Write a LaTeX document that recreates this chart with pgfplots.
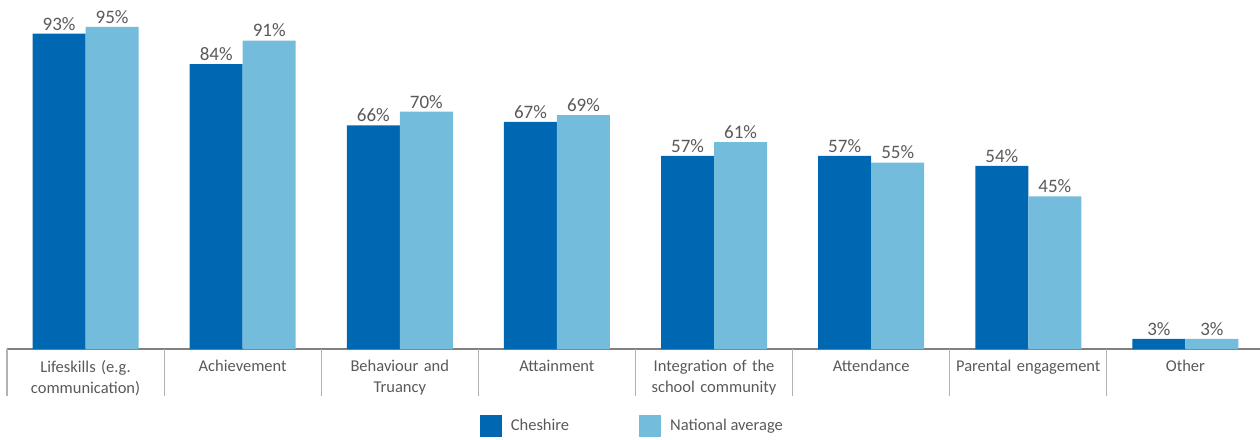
\documentclass[border=0pt]{standalone}
\usepackage{pgfplots}
\pgfplotsset{compat=1.18}
\usepackage{fontspec}
\setmainfont{Carlito}
\definecolor{cheshire}{HTML}{0068B3}
\definecolor{national}{HTML}{74BCDB}
\definecolor{txt}{HTML}{595959}
\begin{document}
\begin{tikzpicture}
\begin{axis}[
  at={(7pt,90pt)}, anchor=south west,
  scale only axis, width=1257pt, height=339pt,
  ymin=0, ymax=100, xmin=-0.5, xmax=7.5,
  axis y line=none, axis x line*=bottom,
  x axis line style={draw=gray, line width=1.2pt},
  ybar, bar width=53pt,
  xtick={0,...,7},
  major tick length=0pt,
  xticklabels={{Lifeskills (e.g.\\communication)},{Achievement},{Behaviour and\\Truancy},{Attainment},{Integration of the\\school community},{Attendance},{Parental engagement},{Other}},
  xticklabel style={align=center, text width=152pt, font=\fontsize{16.5}{21.5}\selectfont, text=txt, anchor=north, yshift=-7.5pt},
  extra x ticks={-0.5,0.5,...,7.5},
  extra x tick labels={},
  extra x tick style={major tick length=47pt, tick align=outside, tick style={draw=gray!60, line width=1.2pt}},
  /pgf/number format/assume math mode=true,
  nodes near coords={\pgfmathprintnumber{\pgfplotspointmeta}\%},
  every node near coord/.append style={font=\fontsize{19}{22}\selectfont, text=txt, yshift=0pt},
  legend columns=2,
  legend style={at={(0.4975,-0.227)}, anchor=center, draw=none, fill=none,
    font=\fontsize{16.5}{20}\selectfont, text=txt,
    /tikz/every odd column/.append style={column sep=7pt},
    /tikz/every even column/.append style={column sep=68pt}},
  legend image code/.code={\draw[#1,draw=none] (0pt,-11pt) rectangle (22pt,11pt);},
]
\addplot[fill=cheshire, draw=none, bar shift=-26.5pt] coordinates {(0,93) (1,84) (2,66) (3,67) (4,57) (5,57) (6,54) (7,3)};
\addplot[fill=national, draw=none, bar shift=26.5pt] coordinates {(0,95) (1,91) (2,70) (3,69) (4,61) (5,55) (6,45) (7,3)};
\legend{Cheshire, National average}
\end{axis}
\pgfresetboundingbox
\path (0,0) rectangle (1260pt,439pt);
\end{tikzpicture}
\end{document}
